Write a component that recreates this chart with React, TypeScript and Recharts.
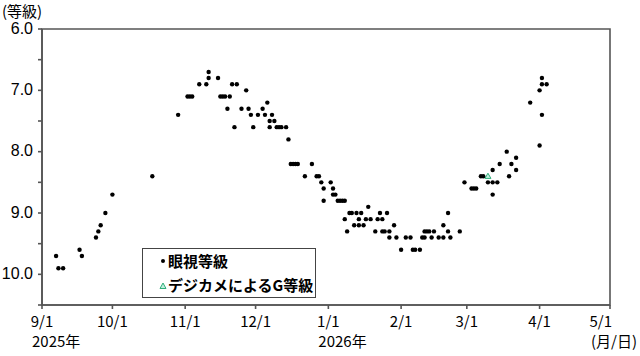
import { ScatterChart, Scatter, XAxis, YAxis, ReferenceArea } from 'recharts'

const FONT = '"Noto Sans CJK JP", "Noto Sans", sans-serif'
const NUM_FONT = '"Liberation Sans", Arial, sans-serif'
const START = '2025-09-01'

// 眼視等級
const visualDates = [
  '2025-09-07', '2025-09-08', '2025-09-10', '2025-09-17', '2025-09-18', '2025-09-24', '2025-09-25', '2025-09-26',
  '2025-09-28', '2025-10-01', '2025-10-18', '2025-10-29', '2025-11-02', '2025-11-03', '2025-11-04', '2025-11-07',
  '2025-11-10', '2025-11-11', '2025-11-11', '2025-11-15', '2025-11-16', '2025-11-17', '2025-11-18', '2025-11-19',
  '2025-11-20', '2025-11-21', '2025-11-22', '2025-11-23', '2025-11-25', '2025-11-27', '2025-11-28', '2025-11-29',
  '2025-11-30', '2025-12-02', '2025-12-04', '2025-12-05', '2025-12-06', '2025-12-07', '2025-12-07', '2025-12-08',
  '2025-12-09', '2025-12-10', '2025-12-11', '2025-12-12', '2025-12-14', '2025-12-15', '2025-12-16', '2025-12-17',
  '2025-12-18', '2025-12-19', '2025-12-22', '2025-12-25', '2025-12-27', '2025-12-28', '2025-12-29', '2025-12-30',
  '2025-12-30', '2026-01-02', '2026-01-03', '2026-01-03', '2026-01-04', '2026-01-05', '2026-01-06', '2026-01-07',
  '2026-01-08', '2026-01-08', '2026-01-09', '2026-01-10', '2026-01-11', '2026-01-12', '2026-01-13', '2026-01-14',
  '2026-01-14', '2026-01-15', '2026-01-16', '2026-01-17', '2026-01-18', '2026-01-19', '2026-01-21', '2026-01-22',
  '2026-01-23', '2026-01-24', '2026-01-24', '2026-01-25', '2026-01-26', '2026-01-27', '2026-01-27', '2026-01-29',
  '2026-01-30', '2026-02-01', '2026-02-03', '2026-02-05', '2026-02-06', '2026-02-07', '2026-02-09', '2026-02-10',
  '2026-02-11', '2026-02-11', '2026-02-12', '2026-02-13', '2026-02-14', '2026-02-15', '2026-02-17', '2026-02-19',
  '2026-02-19', '2026-02-21', '2026-02-21', '2026-02-22', '2026-02-26', '2026-02-28', '2026-03-03', '2026-03-04',
  '2026-03-05', '2026-03-07', '2026-03-08', '2026-03-10', '2026-03-12', '2026-03-12', '2026-03-12', '2026-03-14',
  '2026-03-15', '2026-03-18', '2026-03-19', '2026-03-20', '2026-03-22', '2026-03-22', '2026-03-28', '2026-04-01',
  '2026-04-01', '2026-04-02', '2026-04-02', '2026-04-02', '2026-04-04',
]
const visualMags = [
  9.7, 9.9, 9.9, 9.6, 9.7, 9.4, 9.3, 9.2,
  9.0, 8.7, 8.4, 7.4, 7.1, 7.1, 7.1, 6.9,
  6.9, 6.7, 6.8, 6.8, 7.1, 7.1, 7.1, 7.3,
  7.1, 6.9, 7.6, 6.9, 7.3, 7.0, 7.3, 7.4,
  7.6, 7.4, 7.3, 7.4, 7.2, 7.5, 7.6, 7.4,
  7.5, 7.6, 7.6, 7.6, 7.6, 7.8, 8.2, 8.2,
  8.2, 8.2, 8.4, 8.2, 8.4, 8.4, 8.5, 8.6,
  8.8, 8.5, 8.6, 8.7, 8.7, 8.8, 8.8, 8.8,
  8.8, 9.1, 9.3, 9.0, 9.0, 9.2, 9.0, 9.1,
  9.2, 9.0, 9.2, 9.1, 8.9, 9.1, 9.3, 9.1,
  9.0, 9.1, 9.3, 9.3, 9.0, 9.3, 9.4, 9.2,
  9.4, 9.6, 9.4, 9.4, 9.6, 9.6, 9.6, 9.4,
  9.4, 9.3, 9.3, 9.3, 9.4, 9.3, 9.4, 9.4,
  9.2, 9.0, 9.3, 9.4, 9.3, 8.5, 8.6, 8.6,
  8.6, 8.4, 8.4, 8.5, 8.3, 8.5, 8.7, 8.5,
  8.2, 8.0, 8.4, 8.2, 8.1, 8.3, 7.2, 7.9,
  7.0, 6.8, 7.4, 6.9, 6.9,
]

// デジカメによるG等級
const dslrDates = ['2026-03-10']
const dslrMags = [8.4]

const monthTicks = [
  '2025-09-01', '2025-10-01', '2025-11-01', '2025-12-01', '2026-01-01',
  '2026-02-01', '2026-03-01', '2026-04-01', '2026-05-01',
]
const monthLabels = ['9/1', '10/1', '11/1', '12/1', '1/1', '2/1', '3/1', '4/1', '5/1']
const subLabels: Record<string, string> = { '9/1': '2025年', '1/1': '2026年', '5/1': '(月/日)' }
const magTicks = [6, 6.5, 7, 7.5, 8, 8.5, 9, 9.5, 10, 10.5]

const dayOf = (d: string) => (Date.parse(d) - Date.parse(START)) / 86400000

const tickDays = monthTicks.map(dayOf)
const lastDay = tickDays[tickDays.length - 1]
const visualData = visualDates.map((d, i) => ({ x: dayOf(d), y: visualMags[i] }))
const dslrData = dslrDates.map((d, i) => ({ x: dayOf(d), y: dslrMags[i] }))

const AXIS = '#555'

const Dot = (p: any) => <circle cx={p.cx} cy={p.cy} r={2.2} fill="#000" />
const Tri = (p: any) => (
  <path
    d={`M${p.cx},${p.cy - 3} L${p.cx + 3},${p.cy + 2.2} L${p.cx - 3},${p.cy + 2.2} Z`}
    fill="#bfeedd"
    stroke="#2fae7a"
    strokeWidth={1}
  />
)

const XTick = (p: any) => {
  const idx = tickDays.indexOf(p.payload.value)
  const label = monthLabels[idx] ?? ''
  const sub = subLabels[label]
  const last = idx === monthTicks.length - 1
  return (
    <g fontFamily={FONT} fontSize={15} fill="#000">
      <text x={last ? p.x + 2 : p.x} y={p.y} dy={16} textAnchor={last ? 'end' : 'middle'}>
        {label}
      </text>
      {sub && (
        <text
          x={last ? p.x + 27 : p.x - 10}
          y={p.y}
          dy={36}
          textAnchor={last ? 'end' : 'start'}
        >
          {sub}
        </text>
      )}
    </g>
  )
}

export default function App() {
  return (
    <div style={{ position: 'absolute', left: 0, top: 0, width: 640, height: 356, background: '#fff' }}>
      <div style={{ position: 'absolute', left: 2, top: 2, fontFamily: FONT, fontSize: 15, lineHeight: '17px' }}>
        (等級)
      </div>
      <ScatterChart width={640} height={356} margin={{ top: 29, right: 30, bottom: 0, left: 0 }}>
        <XAxis
          type="number"
          dataKey="x"
          domain={[0, lastDay]}
          ticks={tickDays}
          interval={0}
          height={51}
          tickSize={4}
          tickMargin={2}
          stroke={AXIS}
          strokeWidth={1.6}
          tick={<XTick />}
          allowDataOverflow
        />
        <YAxis
          type="number"
          dataKey="y"
          domain={[6, 10.5]}
          reversed
          ticks={magTicks}
          interval={0}
          width={42}
          tickSize={4}
          tickMargin={5}
          stroke={AXIS}
          strokeWidth={1.6}
          tickFormatter={(v: number) => (Number.isInteger(v) ? v.toFixed(1) : '')}
          tick={{ fontFamily: NUM_FONT, fontSize: 16, fill: '#000', dy: -1 }}
          allowDataOverflow
        />
        <ReferenceArea
          x1={0}
          x2={lastDay}
          y1={6}
          y2={10.5}
          fill="none"
          stroke={AXIS}
          strokeWidth={1.6}
          ifOverflow="visible"
        />
        <Scatter data={visualData} shape={<Dot />} isAnimationActive={false} />
        <Scatter data={dslrData} shape={<Tri />} isAnimationActive={false} />
      </ScatterChart>
      <div
        style={{
          position: 'absolute',
          left: 142,
          top: 248,
          width: 174,
          height: 50,
          boxSizing: 'border-box',
          border: '1.5px solid #444',
          background: '#fff',
          fontFamily: FONT,
          fontSize: 15,
          fontWeight: 700,
          lineHeight: '24px',
          paddingLeft: 25,
          paddingTop: 0,
          whiteSpace: 'nowrap',
        }}
      >
        <div style={{ position: 'relative' }}>
          <span
            style={{
              position: 'absolute',
              left: -7,
              top: 10,
              width: 4,
              height: 4,
              borderRadius: 2,
              background: '#000',
            }}
          />
          眼視等級
        </div>
        <div style={{ position: 'relative' }}>
          <svg width={8} height={8} style={{ position: 'absolute', left: -9, top: 9 }}>
            <path d="M4,1 L7,6.5 L1,6.5 Z" fill="#bfeedd" stroke="#2fae7a" strokeWidth={1} />
          </svg>
          デジカメによるG等級
        </div>
      </div>
    </div>
  )
}
